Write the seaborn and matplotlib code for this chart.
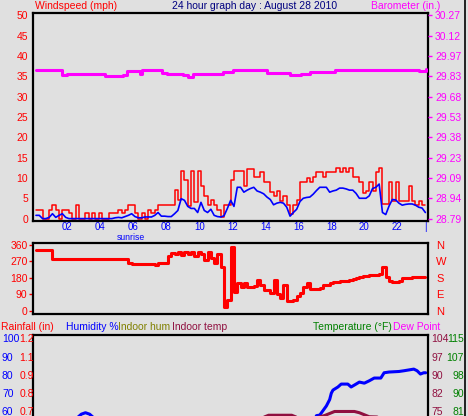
import numpy as np
import matplotlib
matplotlib.use("Agg")
import matplotlib.pyplot as plt
import matplotlib.transforms as mtrans
from matplotlib.lines import Line2D
import seaborn as sns

# ---------------- data ----------------
sample_start = 0.1   # hours
sample_step = 0.2    # hours
wind_gust = [
    2.1, 2.1, 0, 0, 2.0, 3.4, 2.0, 0, 2.0, 2.0,
    1.3, 0, 3.4, 0, 0, 1.3, 0, 1.3, 0, 1.3,
    0, 0, 1.3, 1.3, 1.3, 2.2, 1.3, 2.2, 3.3, 3.3,
    1.3, 0, 1.3, 0, 2.2, 1.3, 2.2, 3.3, 3.3, 3.3,
    3.4, 3.4, 7.0, 4.6, 11.6, 9.4, 3.0, 11.6, 4.0, 11.6,
    8.0, 5.5, 3.4, 4.6, 3.4, 2.0, 0.4, 3.4, 3.4, 9.4,
    11.6, 11.6, 11.6, 8.0, 12.2, 12.2, 10.3, 10.3, 11.5, 9.0,
    9.0, 6.6, 5.5, 6.9, 4.4, 5.5, 3.4, 1.2, 3.4, 4.5,
    8.9, 8.9, 10.0, 9.0, 10.2, 11.4, 11.4, 10.2, 11.4, 11.4,
    11.4, 12.4, 11.4, 12.4, 11.4, 12.4, 10.2, 10.2, 8.9, 6.4,
    6.7, 8.9, 6.7, 11.4, 12.4, 3.7, 3.7, 8.9, 4.4, 8.9,
    4.4, 4.4, 4.4, 8.0, 4.4, 3.3, 4.4, 3.3, 3.3,
]
wind_avg = [
    0.8, 0.8, 0, 0, 0.3, 1.2, 0.3, 0.8, 1.2, 0.3,
    0, 0, 0, 0, 0, 0, 0, 0, 0, 0,
    0, 0, 0, 0, 0.2, 0.3, 0.2, 0.5, 0.8, 1.2,
    0.5, 0.2, 0.2, 0.4, 0.4, 0.4, 0.8, 1.5, 0.6, 0.6,
    0.5, 0.5, 1.2, 2.0, 4.9, 4.5, 3.0, 2.5, 2.5, 1.5,
    4.0, 2.0, 1.5, 2.3, 0.8, 0.5, 0.4, 0.7, 2.5, 4.5,
    3.0, 7.7, 7.7, 6.5, 7.0, 7.4, 7.7, 6.8, 6.5, 6.1,
    5.3, 4.7, 3.4, 3.8, 4.0, 3.8, 2.8, 0.6, 1.5, 2.3,
    4.2, 5.0, 5.2, 5.3, 6.0, 6.9, 7.7, 7.7, 7.7, 6.5,
    6.8, 7.0, 7.5, 7.5, 7.3, 7.0, 7.0, 6.2, 5.0, 5.0,
    5.0, 5.6, 7.4, 7.7, 8.5, 1.5, 1.0, 3.1, 4.7, 4.6,
    3.8, 3.3, 3.5, 3.6, 3.6, 3.3, 2.8, 2.6, 1.5,
]
wind_dir = [
    332, 332, 332, 332, 332, 283, 283, 283, 283, 283,
    283, 283, 283, 283, 283, 283, 283, 283, 283, 283,
    283, 283, 283, 283, 283, 283, 283, 283, 262, 254,
    254, 254, 254, 254, 254, 254, 247, 260, 260, 262,
    300, 314, 310, 320, 305, 318, 310, 321, 300, 318,
    310, 278, 320, 290, 261, 310, 240, 24, 60, 350,
    105, 150, 132, 153, 132, 132, 135, 169, 140, 114,
    114, 100, 169, 90, 70, 142, 54, 54, 60, 80,
    100, 130, 150, 120, 120, 120, 125, 140, 142, 150,
    160, 160, 165, 165, 165, 169, 175, 180, 185, 190,
    192, 195, 196, 196, 200, 241, 187, 165, 160, 160,
    165, 178, 180, 180, 182, 182, 182, 182, 182,
]
baro_hours = [0.12, 1.39, 1.7, 2.0, 2.6, 4.0, 4.3, 5.03, 5.4, 5.64, 6.24, 6.42,
              6.55, 7.45, 7.76, 8.06, 9.03, 9.33, 9.64, 10.85, 11.45, 12.06,
              13.94, 14.12, 15.33, 15.5, 15.88, 16.18, 16.55, 16.7, 18.0, 18.2,
              18.97, 21.8, 23.0, 23.33, 23.72]
baro_in = [29.869, 29.869, 29.835, 29.842, 29.844, 29.844, 29.83, 29.827, 29.835,
           29.862, 29.864, 29.845, 29.869, 29.869, 29.85, 29.845, 29.835, 29.822,
           29.842, 29.842, 29.86, 29.869, 29.872, 29.851, 29.851, 29.835, 29.835,
           29.845, 29.84, 29.858, 29.858, 29.869, 29.872, 29.872, 29.869, 29.862,
           29.876]
hum_hours = [0.1, 2.0, 2.6, 2.85, 3.1, 3.35, 3.6, 16.0, 16.8, 17.0, 17.1, 17.3,
             17.5, 17.7, 17.9, 18.0, 18.1, 18.4, 18.6, 19.0, 19.2, 19.5, 19.7,
             20.0, 20.3, 20.6, 21.0, 21.2, 21.5, 22.1, 22.4, 23.0, 23.2, 23.4,
             23.6, 23.72]
humidity = [50, 53, 57, 59.0, 59.8, 59.0, 57, 50, 53, 56, 58.2, 58.5, 61, 63.5,
            67, 70.5, 72.2, 73.9, 75.5, 75.5, 73.9, 75.5, 76.6, 76, 77.3, 78.8,
            78.8, 81.7, 82.1, 82.4, 82.8, 83.7, 82.8, 81.0, 81.7, 81.7]
indoor_hours = [0.1, 13.9, 14.2, 15.6, 15.9, 17.2, 17.6, 17.9, 18.2, 19.4, 19.7,
                20.0, 20.3, 23.72]
indoor_temp = [72.5, 73.0, 73.8, 73.8, 73.0, 73.0, 73.7, 74.5, 75.3, 75.3, 74.8,
               74.0, 73.2, 72.5]

x_tick_hours = [2, 4, 6, 8, 10, 12, 14, 16, 18, 20, 22, 23.72]
x_tick_labels = ["02", "04", "06", "08", "10", "12", "14", "16", "18", "20", "22", "|"]
wind_ticks = [0, 5, 10, 15, 20, 25, 30, 35, 40, 45, 50]
baro_tick_labels = ["28.79", "28.94", "29.09", "29.23", "29.38", "29.53",
                    "29.68", "29.83", "29.97", "30.12", "30.27"]
dir_ticks = [0, 90, 180, 270, 360]
dir_letters = ["N", "E", "S", "W", "N"]
hum_ticks = [100, 90, 80, 70, 60]
rain_labels = ["1.2", "1.1", "0.9", "0.8", "0.7"]
intemp_labels = ["104", "97", "90", "82", "75"]
temp_labels = ["115", "107", "98", "90", "81"]

times = np.round(sample_start + sample_step * np.arange(len(wind_gust)), 3)

# ---------------- style ----------------
sns.set_theme(style="white")
plt.rcParams['font.family'] = ['Liberation Sans', 'DejaVu Sans']
BG = '#e0e0e0'
RED = '#ff0000'; BLUE = '#0000ff'; MAG = '#ff00ff'; NAVY = '#000080'
OLIVE = '#808000'; MAROON = '#901040'; GREEN = '#008000'
FS = 7

W, H = 468, 416
fig = plt.figure(figsize=(W / 100, H / 100), dpi=100, facecolor=BG)


def rect(x0, y0, x1, y1):
    return [x0 / W, 1 - y1 / H, (x1 - x0) / W, (y1 - y0) / H]


def frame(ax):
    ax.set_facecolor(BG)
    for s in ax.spines.values():
        s.set_color('black')
        s.set_linewidth(1.6)


XMIN, XMAX = -0.08, 23.86

# ---------------- panel 1: wind / barometer ----------------
ax1 = fig.add_axes(rect(33, 13, 428, 221))
frame(ax1)
sns.lineplot(x=times, y=wind_gust, ax=ax1, color=RED, linewidth=1.1,
             drawstyle='steps-post', estimator=None, sort=False, legend=False)
sns.lineplot(x=times, y=wind_avg, ax=ax1, color=BLUE, linewidth=1.2,
             estimator=None, sort=False, legend=False)
ax1.set_xlim(XMIN, XMAX)
ax1.set_ylim(-0.59, 50.57)
ax1.set_yticks(wind_ticks)
ax1.set_yticklabels([str(v) for v in wind_ticks])
ax1.tick_params(axis='y', colors=RED, length=0, pad=3.5, labelsize=FS + 0.5)
ax1.set_xticks(x_tick_hours)
ax1.set_xticklabels(x_tick_labels)
ax1.tick_params(axis='x', colors=BLUE, length=0, pad=1.0, labelsize=FS)
ax1.set_xlabel(""); ax1.set_ylabel("")
ax1.text(5.83, -0.058, "sunrise", transform=ax1.get_xaxis_transform(),
         color=BLUE, fontsize=6.2, ha='center', va='top')

ax1r = ax1.twinx()
sns.lineplot(x=baro_hours, y=baro_in, ax=ax1r, color=MAG, linewidth=2.2,
             drawstyle='steps-post', estimator=None, sort=False, legend=False)
b0, b1 = 28.79, 30.27
per = (b1 - b0) / 50.0
ax1r.set_ylim(b0 - 0.59 * per, b0 + 50.57 * per)
ax1r.set_yticks(list(np.linspace(b0, b1, len(baro_tick_labels))))
ax1r.set_yticklabels(baro_tick_labels)
ax1r.tick_params(axis='y', colors=MAG, length=3, width=1, pad=2, labelsize=FS + 0.5)
ax1r.set_ylabel("")
for s in ax1r.spines.values():
    s.set_visible(False)

# ---------------- panel 2: wind direction ----------------
ax2 = fig.add_axes(rect(33, 243, 428, 314))
frame(ax2)
sns.lineplot(x=times, y=wind_dir, ax=ax2, color=RED, linewidth=2.2,
             drawstyle='steps-post', estimator=None, sort=False, legend=False)
ax2.set_xlim(XMIN, XMAX)
ax2.set_ylim(-16.4, 369)
ax2.set_xticks([])
ax2.set_yticks(dir_ticks)
ax2.set_yticklabels([str(v) for v in dir_ticks])
ax2.tick_params(axis='y', colors=RED, length=3, width=1, pad=1, labelsize=FS + 0.5)
ax2.set_xlabel(""); ax2.set_ylabel("")
ax2r = ax2.twinx()
ax2r.set_ylim(-16.4, 369)
ax2r.set_yticks(dir_ticks)
ax2r.set_yticklabels(dir_letters)
ax2r.tick_params(axis='y', colors=RED, length=0, pad=6, labelsize=FS + 1)
for s in ax2r.spines.values():
    s.set_visible(False)

# ---------------- panel 3: humidity / temperatures ----------------
ax3 = fig.add_axes(rect(33, 335, 428, 416))
frame(ax3)
ax3.spines['bottom'].set_visible(False)
sns.lineplot(x=hum_hours, y=humidity, ax=ax3, color=BLUE, linewidth=2.2,
             estimator=None, sort=False, legend=False)
ax3.set_xlim(XMIN, XMAX)
ax3.set_ylim(58.0, 102.4)
ax3.set_xticks([]); ax3.set_yticks([])
ax3.set_xlabel(""); ax3.set_ylabel("")
ax3r = ax3.twinx()
sns.lineplot(x=indoor_hours, y=indoor_temp, ax=ax3r, color=MAROON, linewidth=2.2,
             estimator=None, sort=False, legend=False)
ax3r.set_ylim(73.5, 105.7)
ax3r.set_yticks([]); ax3r.set_ylabel("")
for s in ax3r.spines.values():
    s.set_visible(False)

tr = mtrans.blended_transform_factory(fig.transFigure, ax3.transData)
for hv, rl, il, tl in zip(hum_ticks, rain_labels, intemp_labels, temp_labels):
    ax3.text(2 / W, hv, str(hv), transform=tr, color=BLUE, fontsize=FS + 0.5,
             ha='left', va='center', clip_on=False)
    ax3.text(19.5 / W, hv, rl, transform=tr, color=RED, fontsize=FS + 0.5,
             ha='left', va='center', clip_on=False)
    ax3.text(431 / W, hv, il, transform=tr, color=MAROON, fontsize=FS + 0.5,
             ha='left', va='center', clip_on=False)
    ax3.text(464 / W, hv, tl, transform=tr, color=GREEN, fontsize=FS + 0.5,
             ha='right', va='center', clip_on=False)

# ---------------- header texts ----------------
def ftext(x, y, s, c):
    fig.text(x / W, 1 - y / H, s, color=c, fontsize=FS + 0.5, ha='left', va='center')

ftext(35, 6, "Windspeed (mph)", RED)
ftext(172, 6, "24 hour graph day : August 28 2010", NAVY)
ftext(371, 6, "Barometer (in.)", MAG)
ftext(1, 327, "Rainfall (in)", RED)
ftext(66, 327, "Humidity %", BLUE)
ftext(118, 327, "Indoor hum", OLIVE)
ftext(172, 327, "Indoor temp", MAROON)
ftext(313, 327, "Temperature (°F)", GREEN)
ftext(393, 327, "Dew Point", MAG)

fig.add_artist(Line2D([465 / W, 465 / W], [0, 1], color='black', linewidth=1.2,
                      transform=fig.transFigure))

fig.savefig("out.png", dpi=100, facecolor=BG)
